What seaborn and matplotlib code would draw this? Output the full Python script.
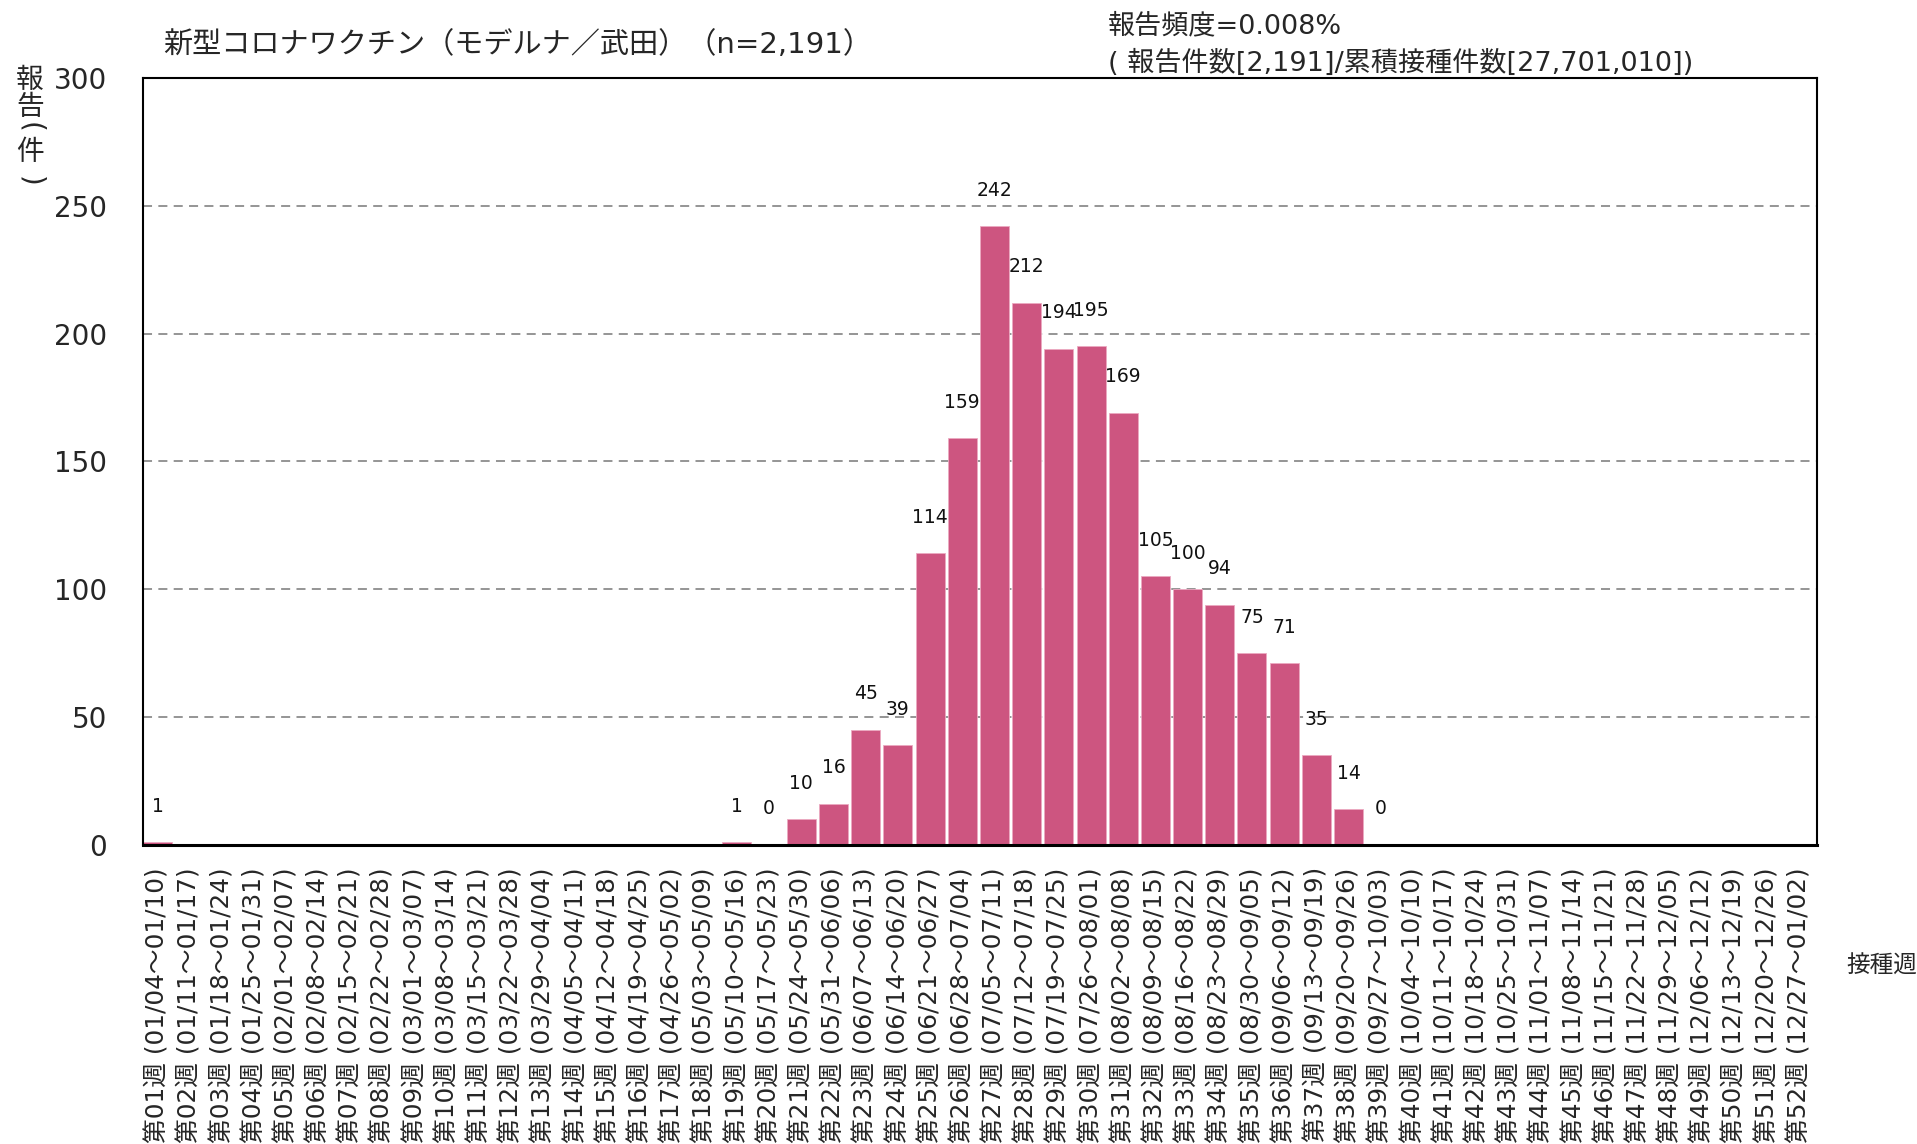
import numpy as np
import pandas as pd
import matplotlib
matplotlib.use("Agg")
import matplotlib.pyplot as plt
import seaborn as sns

week_labels = [
    "第01週 (01/04～01/10)", "第02週 (01/11～01/17)", "第03週 (01/18～01/24)", "第04週 (01/25～01/31)",
    "第05週 (02/01～02/07)", "第06週 (02/08～02/14)", "第07週 (02/15～02/21)", "第08週 (02/22～02/28)",
    "第09週 (03/01～03/07)", "第10週 (03/08～03/14)", "第11週 (03/15～03/21)", "第12週 (03/22～03/28)",
    "第13週 (03/29～04/04)", "第14週 (04/05～04/11)", "第15週 (04/12～04/18)", "第16週 (04/19～04/25)",
    "第17週 (04/26～05/02)", "第18週 (05/03～05/09)", "第19週 (05/10～05/16)", "第20週 (05/17～05/23)",
    "第21週 (05/24～05/30)", "第22週 (05/31～06/06)", "第23週 (06/07～06/13)", "第24週 (06/14～06/20)",
    "第25週 (06/21～06/27)", "第26週 (06/28～07/04)", "第27週 (07/05～07/11)", "第28週 (07/12～07/18)",
    "第29週 (07/19～07/25)", "第30週 (07/26～08/01)", "第31週 (08/02～08/08)", "第32週 (08/09～08/15)",
    "第33週 (08/16～08/22)", "第34週 (08/23～08/29)", "第35週 (08/30～09/05)", "第36週 (09/06～09/12)",
    "第37週 (09/13～09/19)", "第38週 (09/20～09/26)", "第39週 (09/27～10/03)", "第40週 (10/04～10/10)",
    "第41週 (10/11～10/17)", "第42週 (10/18～10/24)", "第43週 (10/25～10/31)", "第44週 (11/01～11/07)",
    "第45週 (11/08～11/14)", "第46週 (11/15～11/21)", "第47週 (11/22～11/28)", "第48週 (11/29～12/05)",
    "第49週 (12/06～12/12)", "第50週 (12/13～12/19)", "第51週 (12/20～12/26)", "第52週 (12/27～01/02)",
]

# None = no report shown for that week
counts = [
    1, None, None, None, None, None, None, None, None, None,
    None, None, None, None, None, None, None, None, 1, 0,
    10, 16, 45, 39, 114, 159, 242, 212, 194, 195,
    169, 105, 100, 94, 75, 71, 35, 14, 0, None,
    None, None, None, None, None, None, None, None, None, None,
    None, None,
]

y_ticks = [0, 50, 100, 150, 200, 250, 300]

title_text = "新型コロナワクチン（モデルナ／武田）（n=2,191）"
freq_line1 = "報告頻度=0.008%"
freq_line2 = "( 報告件数[2,191]/累積接種件数[27,701,010])"
y_label_chars = ["報", "告", "(", "件", ")"]
x_label = "接種週"

bar_color = "#CD5580"

sns.set_style("white")
plt.rcParams["font.family"] = ["DejaVu Sans", "Noto Sans CJK JP"]

df = pd.DataFrame({"week": week_labels, "count": counts})
df["height"] = df["count"].fillna(0).astype(float)

W, H = 1917, 1144
fig = plt.figure(figsize=(W / 100, H / 100), dpi=100)
ax = fig.add_axes([0.0746, 0.2614, 0.8732, 0.6705])

sns.barplot(data=df, x="week", y="height", order=week_labels, color=bar_color,
            saturation=1, width=0.9, edgecolor="#ECA9C1", linewidth=0.6, ax=ax)

ax.set_xlim(-0.45, 51.55)
ax.set_ylim(0, 300)
ax.set_yticks(y_ticks)
ax.yaxis.grid(True, linestyle=(0, (5, 3.5)), color="#8C8C8C", linewidth=1.3)
ax.set_axisbelow(True)
ax.set_xlabel("")
ax.set_ylabel("")

for s in ["top", "left", "right"]:
    ax.spines[s].set_visible(True)
    ax.spines[s].set_color("black")
    ax.spines[s].set_linewidth(1.5)
ax.spines["bottom"].set_color("black")
ax.spines["bottom"].set_linewidth(2.2)

ax.tick_params(axis="y", length=0, pad=26, labelsize=20)
ax.tick_params(axis="x", length=0, pad=16, labelsize=17.8)
plt.setp(ax.get_xticklabels(), rotation=90, ha="center", va="top")

for i, v in enumerate(df["count"]):
    if pd.notna(v):
        ax.annotate(f"{int(v)}", xy=(i, v), xytext=(0, 26), textcoords="offset points",
                    ha="center", va="center", fontsize=13.5, color="#111111")

fig.text(163 / W, 1 - 45 / H, title_text, fontsize=21, ha="left", va="center")
fig.text(1108 / W, 1 - 26 / H, freq_line1, fontsize=19.5, ha="left", va="center")
fig.text(1108 / W, 1 - 63 / H, freq_line2, fontsize=19.5, ha="left", va="center")

# vertical y-axis label, one character per row
y_label_rows = [80, 107, 127, 152, 181]
for ch, yy in zip(y_label_chars, y_label_rows):
    rot = -90 if ch in "()" else 0
    fig.text(30 / W, 1 - yy / H, ch, fontsize=20, ha="center", va="center", rotation=rot)

fig.text(1846 / W, 1 - 966 / H, x_label, fontsize=17, ha="left", va="center")

fig.savefig("out.png", dpi=100)
